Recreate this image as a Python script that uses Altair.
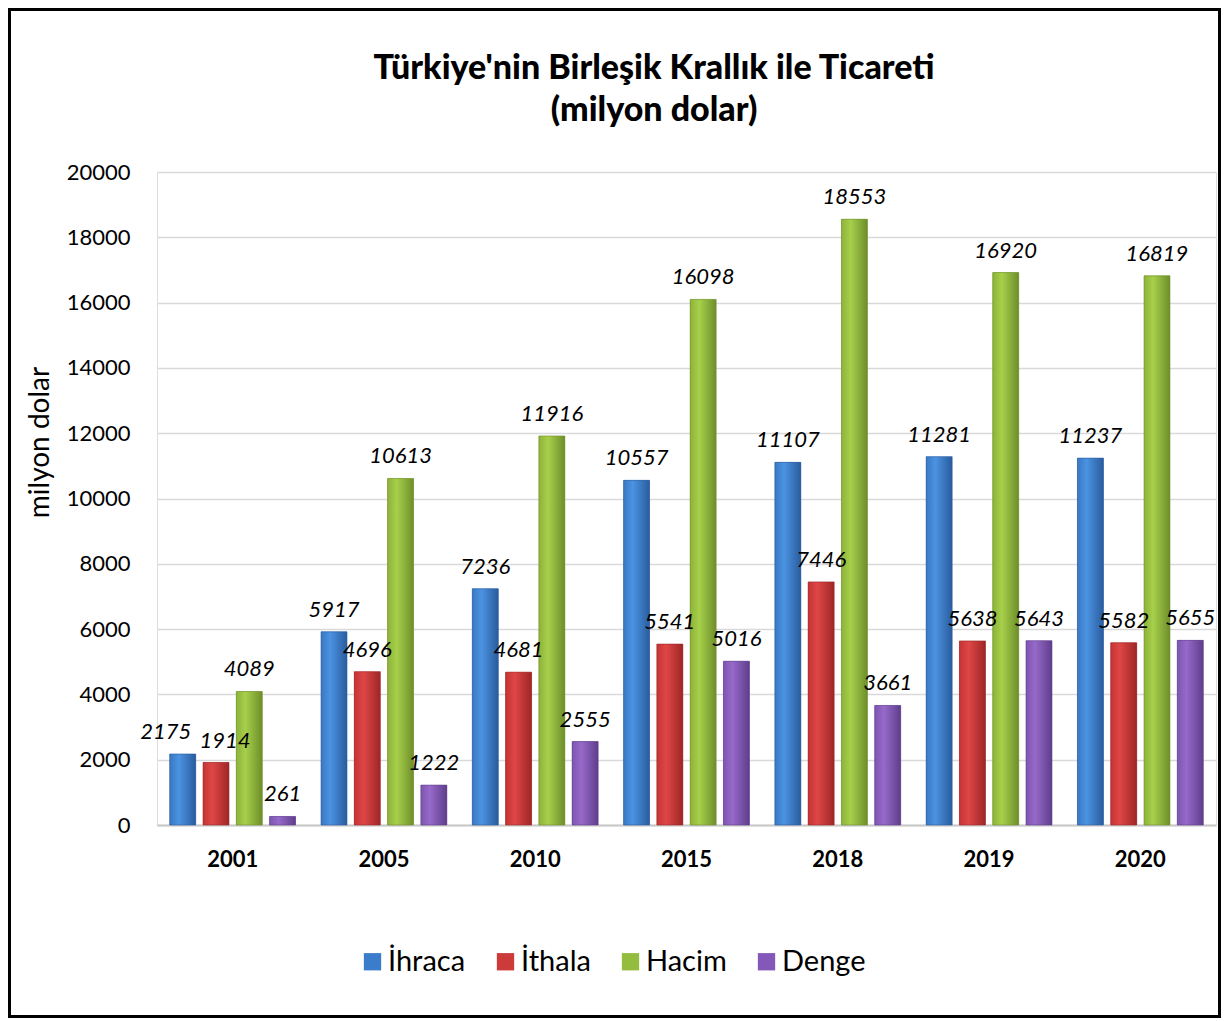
import altair as alt
import pandas as pd

years = ["2001", "2005", "2010", "2015", "2018", "2019", "2020"]
series = ["İhraca", "İthala", "Hacim", "Denge"]
ihracat = [2175, 5917, 7236, 10557, 11107, 11281, 11237]
ithalat = [1914, 4696, 4681, 5541, 7446, 5638, 5582]
hacim = [4089, 10613, 11916, 16098, 18553, 16920, 16819]
denge = [261, 1222, 2555, 5016, 3661, 5643, 5655]
title_lines = ["Türkiye'nin Birleşik Krallık ile Ticareti", "(milyon dolar)"]

solid = ["#3C7DCB", "#CC3A3A", "#94BD40", "#8458B8"]
grad_stops = [
    ["#3A78C2", "#4B93E2", "#2A5C9E"],
    ["#C33434", "#DF4646", "#9E2626"],
    ["#8DB23A", "#A7D04A", "#6E8E2B"],
    ["#7D55B0", "#9769CA", "#5E3E8B"],
]

rows = []
for s, vals in zip(series, [ihracat, ithalat, hacim, denge]):
    for y, v in zip(years, vals):
        rows.append({"year": y, "series": s, "value": v})
df = pd.DataFrame(rows)

FONT = "Lato"
W, H = 1059, 653
PL, PT, PR, PB = 149, 164, 5, 193

x_enc = alt.X("year:N", sort=years,
              scale=alt.Scale(paddingInner=0.12, paddingOuter=0.06),
              axis=alt.Axis(title=None, labelFontSize=22, labelFontWeight="bold",
                            labelFont=FONT, labelColor="black", labelAngle=0,
                            ticks=False, labelPadding=24, domainColor="#C8C8C8",
                            domainWidth=2))
xo_enc = alt.XOffset("series:N", sort=series,
                     scale=alt.Scale(domain=series, paddingInner=0.22, paddingOuter=0.11))
y_enc = alt.Y("value:Q", scale=alt.Scale(domain=[0, 20000], nice=False),
              axis=alt.Axis(values=list(range(0, 20001, 2000)), format="d",
                            title="milyon dolar",
                            titleFontSize=28, titleFont=FONT, titleFontWeight="normal",
                            titleColor="black", titlePadding=12, titleY=270,
                            labelFontSize=22, labelFont=FONT, labelColor="black",
                            labelPadding=27, ticks=False, domain=False,
                            gridColor="#D9D9D9", gridWidth=1.5))

base = alt.Chart(df)

legend_bars = base.mark_bar().encode(
    x=x_enc, xOffset=xo_enc, y=y_enc,
    color=alt.Color("series:N", sort=series,
                    scale=alt.Scale(domain=series, range=solid),
                    legend=alt.Legend(title=None, orient="none", direction="horizontal",
                                      legendX=201, legendY=775,
                                      labelFontSize=29, labelFont=FONT, labelColor="black",
                                      symbolType="square", symbolSize=300,
                                      symbolStrokeWidth=0, labelOffset=1,
                                      columnPadding=25)),
)

layers = [legend_bars]
for s, stops in zip(series, grad_stops):
    g = alt.Gradient(gradient="linear",
                     stops=[alt.GradientStop(color=stops[0], offset=0),
                            alt.GradientStop(color=stops[1], offset=0.35),
                            alt.GradientStop(color=stops[2], offset=1)],
                     x1=0, x2=1, y1=0, y2=0)
    layers.append(
        base.mark_bar(color=g, stroke=stops[2], strokeWidth=0.6)
        .encode(x=x_enc, xOffset=xo_enc, y=y_enc)
        .transform_filter(alt.datum.series == s)
    )

text_enc = dict(x=x_enc, xOffset=xo_enc, y=y_enc, text=alt.Text("value:Q", format="d"))
first_exp = (alt.datum.year == "2001") & (alt.datum.series == "İhraca")
first_imp = (alt.datum.year == "2001") & (alt.datum.series == "İthala")
label_style = dict(font=FONT, fontSize=22, fontStyle="italic", color="black",
                   baseline="bottom")
layers.append(base.mark_text(dy=-10, **label_style).encode(**text_enc)
              .transform_filter(~(first_exp | first_imp)))
layers.append(base.mark_text(dy=-10, dx=-17, **label_style).encode(**text_enc)
              .transform_filter(first_exp))
layers.append(base.mark_text(dy=-10, dx=9, **label_style).encode(**text_enc)
              .transform_filter(first_imp))

one = alt.Chart(pd.DataFrame({"a": [0]}))
for i, line in enumerate(title_lines):
    layers.append(one.mark_text(text=line, font=FONT, fontSize=34, fontWeight=900,
                                color="black", align="center", baseline="middle")
                  .encode(x=alt.value(497), y=alt.value(-103 + 42 * i)))

border = one.mark_rect(fill="transparent", stroke="black", strokeWidth=3).encode(
    x=alt.value(-PL + 1.5), x2=alt.value(W + PR - 1.5),
    y=alt.value(-PT + 1.5), y2=alt.value(H + PB - 1.5))
layers.append(border)

chart = alt.layer(*layers).properties(
    width=W, height=H,
    padding={"left": PL, "top": PT, "right": PR, "bottom": PB},
    autosize=alt.AutoSizeParams(type="none"),
).configure_view(stroke=None).configure(background="white")

chart.save("out.html", embed_options={"renderer": "svg", "actions": False})
